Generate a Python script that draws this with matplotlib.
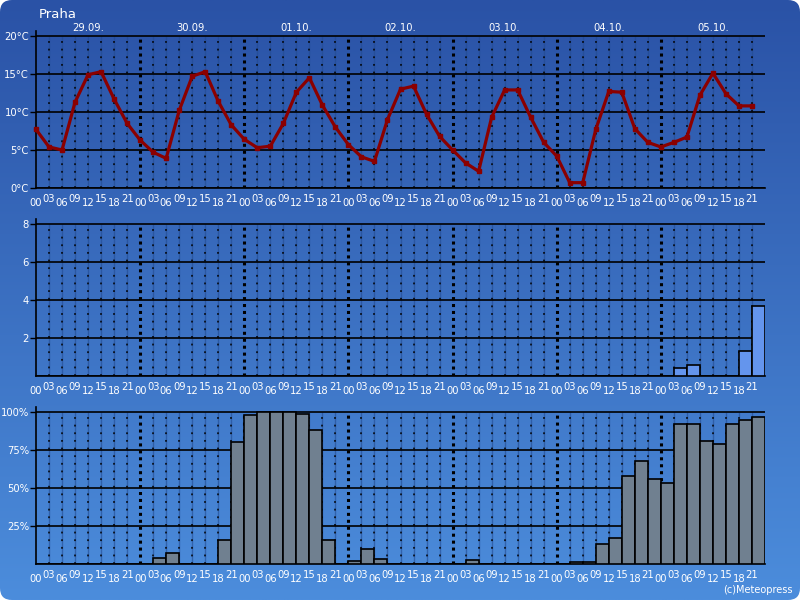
import numpy as np
import matplotlib
matplotlib.use("Agg")
import matplotlib.pyplot as plt
from matplotlib.patches import FancyBboxPatch

plt.rcParams['font.family'] = ['DejaVu Sans']
plt.rcParams['lines.scale_dashes'] = False

location = "Praha"
days = ["29.09.", "30.09.", "01.10.", "02.10.", "03.10.", "04.10.", "05.10."]
hours = ["00", "03", "06", "09", "12", "15", "18", "21"]

temperature = [
    7.7, 5.4, 5.0, 11.3, 14.9, 15.3, 11.7, 8.5,
    6.3, 4.7, 3.9, 10.2, 14.7, 15.3, 11.4, 8.3,
    6.4, 5.3, 5.5, 8.5, 12.6, 14.5, 10.9, 8.0,
    5.7, 4.1, 3.5, 9.0, 13.0, 13.4, 9.7, 6.8,
    5.0, 3.3, 2.2, 9.3, 12.9, 12.9, 9.3, 6.0,
    4.2, 0.7, 0.7, 7.7, 12.7, 12.6, 7.8, 6.0,
    5.4, 6.0, 6.7, 12.2, 15.1, 12.4, 10.8, 10.8,
]

precipitation = [0.0] * 49 + [0.4, 0.56, 0.0, 0.0, 0.0, 1.3, 3.67]

cloudiness = [
    0, 0, 0, 0, 0, 0, 0, 0,
    0, 3.9, 7.2, 0, 0, 0, 15.8, 80.2,
    98, 100, 100, 100, 98.7, 88.2, 15.8, 0,
    2, 9.9, 3.3, 0, 0, 0, 0, 0,
    0, 3, 0, 0, 0, 0, 0, 0,
    0, 1.3, 1.3, 13.2, 17.1, 57.9, 67.8, 55.9,
    53.3, 92.1, 92.1, 80.9, 78.9, 92.1, 94.7, 96.7,
]

temp_ticks = [0, 5, 10, 15, 20]
temp_labels = ["0°C", "5°C", "10°C", "15°C", "20°C"]
prec_ticks = [2, 4, 6, 8]
prec_labels = ["2", "4", "6", "8"]
cloud_ticks = [25, 50, 75, 100]
cloud_labels = ["25%", "50%", "75%", "100%"]

W, H = 800, 600
fig = plt.figure(figsize=(8, 6), dpi=100)
fig.patch.set_facecolor("white")

# background gradient with rounded corners
bg = fig.add_axes([0, 0, 1, 1], zorder=-10)
bg.set_xlim(0, W)
bg.set_ylim(H, 0)
bg.axis("off")
top_c = np.array([0x2a, 0x52, 0xa6]) / 255
bot_c = np.array([0x4c, 0x8d, 0xdc]) / 255
t = np.linspace(0, 1, 256)[:, None]
grad = (top_c[None, :] * (1 - t) + bot_c[None, :] * t)[:, None, :]
grad = np.repeat(grad, 2, axis=1)
im = bg.imshow(grad, extent=[0, W, H, 0], aspect="auto", interpolation="bilinear")
clip = FancyBboxPatch((0, 0), W, H, boxstyle="round,pad=0,rounding_size=12",
                      transform=bg.transData, facecolor="none", edgecolor="none")
bg.add_patch(clip)
im.set_clip_path(clip)

n = len(temperature)
x = np.arange(n)

left = 36 / W
width = (765 - 36) / W
FS = 7.2

def make_ax(top_px, bottom_px):
    return fig.add_axes([left, 1 - bottom_px / H, width, (bottom_px - top_px) / H])

ax1 = make_ax(31.4, 188)
ax2 = make_ax(219, 376)
ax3 = make_ax(407, 564.3)

def style(ax, ymax_grid, ymax, ticks, labels):
    ax.set_facecolor("none")
    ax.set_xlim(0, n)
    ax.set_ylim(0, ymax)
    for s in ["top", "right"]:
        ax.spines[s].set_visible(False)
    ax.spines["left"].set_color("black")
    ax.spines["bottom"].set_color("black")
    ax.spines["left"].set_linewidth(1.2)
    ax.spines["bottom"].set_linewidth(1.2)
    for tv in ticks:
        ax.axhline(tv, color="black", lw=1.2, zorder=1)
    ax.set_yticks(ticks)
    ax.set_yticklabels(labels, color="white", fontsize=FS)
    ax.tick_params(axis="y", length=4, width=1, color="black", pad=1)
    # vertical dotted lines
    for k in range(1, n):
        if k % 8 == 0:
            ax.vlines(k, 0, ymax_grid, colors="black", lw=2.2,
                      linestyles=(0, (2.2, 2.8)), zorder=1)
        else:
            ax.vlines(k, 0, ymax_grid, colors="#224a90", lw=1.0, alpha=0.6, zorder=0.5)
            ax.vlines(k, 0, ymax_grid, colors="black", lw=1.1,
                      linestyles=(0, (1.3, 4.2)), zorder=1)
    ax.set_xticks(x)
    ax.set_xticklabels([])
    ax.tick_params(axis="x", length=0)
    for i in range(n):
        lab = hours[i % 8]
        dy = -10 if i % 2 == 0 else -6
        ax.annotate(lab, (i, 0), xycoords="data", xytext=(0, dy), textcoords="offset pixels",
                    ha="center", va="top", color="white", fontsize=FS, annotation_clip=False)

style(ax1, 20, 20.6, temp_ticks, temp_labels)
style(ax2, 8, 8.26, prec_ticks, prec_labels)
style(ax3, 100, 103.3, cloud_ticks, cloud_labels)

ax1.plot(x, temperature, color="#8b0000", lw=2.3, marker="s", markersize=3.5, zorder=5,
         clip_on=False)

ax2.bar(x, precipitation, width=1.0, align="edge", color="#6495ed", edgecolor="black",
        lw=1.2, zorder=3)
ax3.bar(x, cloudiness, width=1.0, align="edge", color="#708090", edgecolor="black",
        lw=1.2, zorder=3)

for d, day in enumerate(days):
    ax1.annotate(day, (d * 8 + 4, 20), xycoords="data", xytext=(0, 3), textcoords="offset pixels",
                 ha="center", va="bottom", color="white", fontsize=FS, annotation_clip=False)

fig.text(39 / W, 1 - 15 / H, location, color="white", fontsize=9.5, ha="left", va="center")
fig.text(793 / W, 1 - 590 / H, "(c)Meteopress", color="white", fontsize=7, ha="right", va="center")

fig.savefig("out.png", dpi=100)
